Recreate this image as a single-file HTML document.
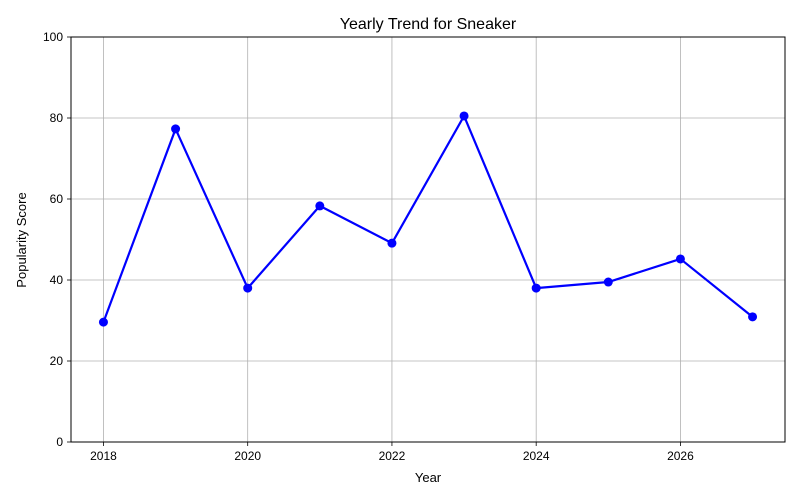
<!DOCTYPE html>
<html><head><meta charset="utf-8"><style>
html,body{margin:0;padding:0;background:#fff;}
svg{display:block;font-family:"Liberation Sans","DejaVu Sans",sans-serif;}
</style></head><body>
<svg id="chart" width="800" height="500" viewBox="0 0 800 500">
<rect x="0" y="0" width="800" height="500" fill="#fff"/>
<g id="grid"></g>
<g id="series"></g>
<rect x="71" y="37" width="714" height="405" fill="none" stroke="#000" stroke-width="1"/>
<g id="ticks"></g>
<text x="428" y="29" text-anchor="middle" font-size="16">Yearly Trend for Sneaker</text>
<text x="428" y="482" text-anchor="middle" font-size="13">Year</text>
<text x="26" y="240" text-anchor="middle" font-size="13" transform="rotate(-90 26 240)">Popularity Score</text>
</svg>
<script>
const years = [2018,2019,2020,2021,2022,2023,2024,2025,2026,2027];
const scores = [29.6,77.3,38.0,58.3,49.1,80.5,38.0,39.5,45.2,30.9];
const xTicks = [2018,2020,2022,2024,2026];
const yTicks = [0,20,40,60,80,100];
const NS="http://www.w3.org/2000/svg";
const L=71,R=785,T=37,B=442;
const xMin=2017.55,xMax=2027.45,yMin=0,yMax=100;
function xs(v){return L+(v-xMin)/(xMax-xMin)*(R-L);}
function ys(v){return B-(v-yMin)/(yMax-yMin)*(B-T);}
function mk(tag,attrs,parent){const e=document.createElementNS(NS,tag);for(const k in attrs)e.setAttribute(k,attrs[k]);parent.appendChild(e);return e;}
const grid=document.getElementById('grid'),ticks=document.getElementById('ticks'),ser=document.getElementById('series');
xTicks.forEach(t=>{
  const x=xs(t);
  const g=mk('line',{x1:x,x2:x,y1:T,y2:B,stroke:'#b0b0b0','stroke-width':0.8},grid);
  
  
  const tk=mk('line',{x1:x,x2:x,y1:B,y2:B+4,stroke:'#000','stroke-width':0.8},ticks);
  
  
  const tx=mk('text',{x:x,y:B+18,'text-anchor':'middle','font-size':12},ticks);
  tx.textContent=t;
  
  
});
yTicks.forEach(t=>{
  const y=ys(t);
  const g=mk('line',{x1:L,x2:R,y1:y,y2:y,stroke:'#b0b0b0','stroke-width':0.8},grid);
  
  
  const tk=mk('line',{x1:L-4,x2:L,y1:y,y2:y,stroke:'#000','stroke-width':0.8},ticks);
  
  
  const tx=mk('text',{x:L-8,y:y+4,'text-anchor':'end','font-size':12},ticks);
  tx.textContent=t;
  
  
});
const pts=years.map((yr,i)=>xs(yr)+','+ys(scores[i])).join(' ');
const line=mk('polyline',{points:pts,fill:'none',stroke:'#0000ff','stroke-width':2.2,'stroke-linejoin':'round'},ser);


years.forEach((yr,i)=>{
  const c=mk('circle',{cx:xs(yr),cy:ys(scores[i]),r:4.5,fill:'#0000ff'},ser);
  
  
});
</script>
</body></html>
